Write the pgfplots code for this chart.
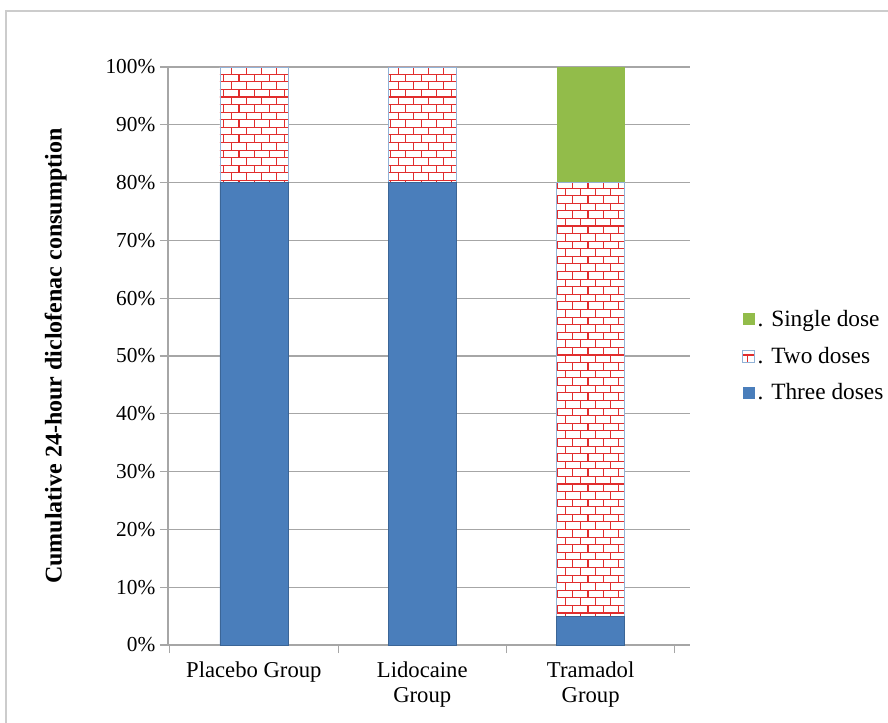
\documentclass[border=0pt]{standalone}
\usepackage{pgfplots}
\pgfplotsset{compat=1.18}
\usetikzlibrary{patterns}
\usepackage{fontspec}
\setmainfont{Liberation Serif}
\definecolor{cblue}{RGB}{74,126,187}
\definecolor{cgreen}{RGB}{146,188,74}
\definecolor{cred}{RGB}{225,45,45}
\begin{document}
\begin{tikzpicture}[x=0.75pt,y=0.75pt]
\path[fill=white] (0,0) rectangle (888,-723);
\draw[gray!40, line width=1.5pt] (6,-723) -- (6,-11) -- (888,-11);
\begin{axis}[
  at={(126pt,-483.75pt)}, anchor=south west,
  scale only axis, width=391.5pt, height=433.5pt,
  ybar stacked, bar width=51pt,
  xmin=-0.51, xmax=2.59, ymin=0, ymax=100,
  xtick={-0.5,0.5,1.5,2.5},
  xticklabels={},
  extra x ticks={0,1,2},
  extra x tick labels={Placebo Group,{Lidocaine\\Group},{Tramadol\\Group}},
  extra x tick style={major tick length=0pt, grid=none,
    xticklabel style={align=center, font=\fontsize{17}{19}\selectfont, yshift=-9pt}},
  x tick style={gray!70, line width=0.8pt},
  ytick={0,10,...,100},
  yticklabel={\pgfmathprintnumber{\tick}\%},
  yticklabel style={font=\fontsize{16}{18}\selectfont},
  /pgf/number format/assume math mode=true,
  axis x line*=bottom, axis y line*=left,
  axis line style={gray!70, line width=0.8pt},
  y tick style={gray!70, line width=0.8pt},
  tick align=outside, major tick length=6pt,
  ymajorgrids, grid style={gray!70, line width=0.8pt},
  ylabel={\textbf{Cumulative 24-hour diclofenac consumption}},
  ylabel style={font=\fontsize{18}{20}\selectfont, at={(axis description cs:-0.215,0.5)}, anchor=center},
  legend style={at={(axis description cs:1.10,0.5)}, anchor=west, draw=none, fill=none,
    font=\fontsize{17.5}{20}\selectfont, row sep=10pt, inner sep=0pt},
  legend cell align=left, reverse legend,
  legend image code/.code={\draw[#1, draw=none] (0pt,-4.5pt) rectangle (9pt,4.5pt);},
]
\addplot[fill=cblue, draw=cblue!80!black]
  coordinates {(0,80) (1,80) (2,5)};
\addlegendentry{. Three doses}
\addplot[fill=white, draw=cblue!60, postaction={pattern=bricks, pattern color=cred}]
  coordinates {(0,20) (1,20) (2,75)};
\addlegendentry{. Two doses}
\addplot[fill=cgreen, draw=none]
  coordinates {(0,0) (1,0) (2,20)};
\addlegendentry{. Single dose}
\end{axis}
\pgfresetboundingbox
\path[use as bounding box] (0,0) rectangle (888,-723);
\end{tikzpicture}
\end{document}
